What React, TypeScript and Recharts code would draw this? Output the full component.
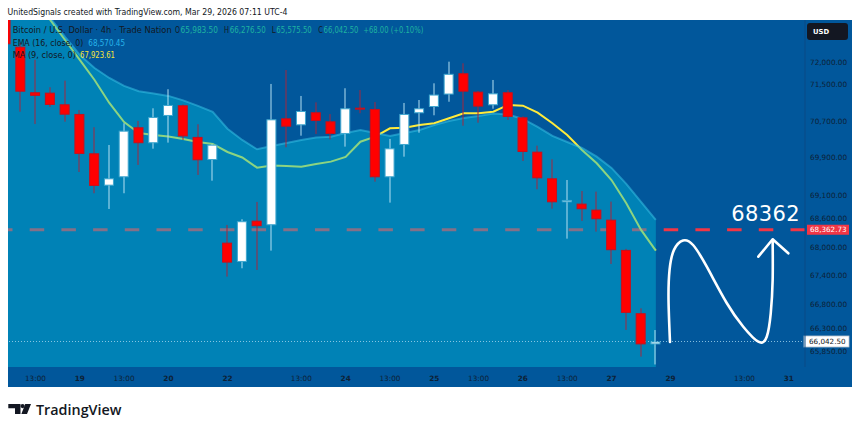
import React from 'react';
import { ComposedChart, XAxis, YAxis, Bar, Line, Area, ReferenceLine } from 'recharts';

// 4h candle slots, -1 is the half-hidden candle at the left edge
const slot = [-1, 0, 1, 2, 3, 4, 5, 6, 7, 8, 9, 10, 11, 12, 13, 14, 15, 16, 17, 18, 19, 20, 21, 22, 23, 24, 25, 26, 27, 28, 29, 30, 31, 32, 33, 34, 35, 36, 37, 38, 39, 40, 41, 42, 43];

const open = [73350, 72341, 71330, 71321, 71065, 70853, 69997, 69300, 69480, 70562, 70215, 70809, 71043, 70352, 69852, 68091, 67686, 68555, 68458, 70758, 70605, 70890, 70692, 70416, 70991, 70962, 69480, 70177, 70868, 71005, 71279, 71750, 71343, 71043, 71330, 70780, 70032, 69458, 68945, 68917, 68789, 68576, 67938, 66622, 65983.5];
const high = [73450, 72420, 72050, 71440, 71586, 70940, 70562, 70177, 70649, 70699, 70977, 71396, 71060, 70627, 70199, 68464, 68585, 68952, 71513, 71822, 71248, 71108, 70850, 71418, 71380, 71116, 70308, 71094, 71159, 71527, 72007, 71971, 71358, 71601, 71380, 70800, 70162, 69867, 69422, 69186, 69172, 68959, 67960, 66723, 66276.5];
const low = [72330, 70903, 70634, 71006, 70684, 69594, 69138, 68803, 69138, 69744, 70097, 70228, 70286, 69529, 69407, 67380, 67554, 67519, 67923, 70127, 70379, 70416, 70300, 70141, 70868, 69386, 68938, 69924, 70444, 70824, 71121, 70597, 70662, 70968, 70721, 69831, 69223, 68810, 68175, 68549, 68323, 67644, 66280, 65735, 65575.5];
const close = [72395, 71342, 71250, 71050, 70837, 69983, 69294, 69458, 70488, 70215, 70787, 71050, 70363, 69846, 70184, 67672, 68543, 68437, 70736, 70575, 70918, 70699, 70416, 70977, 70955, 69480, 70105, 70853, 70977, 71279, 71737, 71343, 71014, 71306, 70787, 70025, 69458, 68945, 68995, 68797, 68585, 67932, 66629, 65983.5, 66042.5];

const ema16 = [74168, 73800, 73393, 72986, 72559, 72156, 71867, 71645, 71469, 71352, 71304, 71249, 71150, 71029, 70898, 70529, 70286, 70084, 70155, 70221, 70286, 70340, 70357, 70438, 70503, 70438, 70373, 70438, 70503, 70612, 70700, 70765, 70808, 70863, 70841, 70743, 70569, 70373, 70242, 70112, 69924, 69681, 69337, 68952, 68570.45];
const ma9 = [74306, 73848, 73393, 72941, 72491, 72045, 71601, 71094, 70677, 70438, 70395, 70362, 70308, 70242, 70199, 70025, 69907, 69687, 69735, 69724, 69709, 69767, 69817, 69917, 70248, 70357, 70540, 70553, 70612, 70649, 70758, 70868, 70868, 70903, 71050, 71034, 70881, 70649, 70395, 70069, 69782, 69422, 68924, 68359, 67923.61];

const timeTickSlot = [1, 4, 7, 10, 14, 19, 22, 25, 28, 31, 34, 37, 40, 44, 49, 52];
const timeTickLabel = ['13:00', '19', '13:00', '20', '22', '13:00', '24', '13:00', '25', '13:00', '26', '13:00', '27', '29', '13:00', '31'];
const priceTicks = [72000, 71500, 70700, 69900, 69100, 68600, 68000, 67400, 66800, 66300, 65850];

const targetPrice = 68362.73;
const lastPrice = 66042.5;

// hand-drawn "N" projection and its arrow head
const waveSlot = [43.96, 43.86, 43.93, 44.23, 44.84, 45.52, 46.45, 47.8, 48.92, 49.94, 50.51, 50.78, 50.91, 50.91];
const wavePrice = [66032, 66897, 67519, 67938, 68136, 68041, 67587, 66833, 66345, 66038, 66140, 66620, 67311, 68148];
const headSlot = [49.94, 50.91, 51.97];
const headPrice = [67796, 68162, 67867];

const rows = slot.map((s, k) => ({ slot: s, o: open[k], h: high[k], l: low[k], c: close[k], ema: ema16[k], ma: ma9[k] }));
const waveRows = waveSlot.map((s, k) => ({ slot: s, v: wavePrice[k] }));
const headRows = headSlot.map((s, k) => ({ slot: s, v: headPrice[k] }));

const X_DOMAIN: [number, number] = [-0.86, 53.1];
const Y_DOMAIN: [number, number] = [65524, 72940];
const FONT = "'DejaVu Sans', Verdana, sans-serif";
const fmt = (v: number) => v.toLocaleString('en-US', { minimumFractionDigits: 2, maximumFractionDigits: 2 });

const wickRange = (d: any) => [d.l, d.h];
const bodyRange = (d: any) => [Math.min(d.o, d.c), Math.max(d.o, d.c)];

const Wick = (p: any) => {
  const { x, y, width, height, payload } = p;
  if (!payload || !isFinite(y) || !isFinite(height)) return <g />;
  const up = payload.c >= payload.o;
  return <rect x={Math.round(x + width / 2) - 0.5} y={y} width={1} height={Math.max(height, 1)} fill={up ? '#b4e0f2' : '#a3263f'} />;
};

const Body = (p: any) => {
  const { x, y, width, height, payload } = p;
  if (!payload || !isFinite(y) || !isFinite(height)) return <g />;
  const up = payload.c >= payload.o;
  const h = Math.max(height, 2);
  return (
    <rect x={x + 0.5} y={y + 0.5} width={width - 1} height={h - 1}
      fill={up ? '#ffffff' : '#ff0000'} stroke={up ? '#3fa7cf' : '#c8101c'} strokeWidth={1} />
  );
};

const TimeTick = ({ x, y, payload }: any) => {
  const k = timeTickSlot.indexOf(payload.value);
  const label = timeTickLabel[k] ?? '';
  const bold = !label.includes(':');
  return (
    <text x={x} y={y + 5.5} textAnchor="middle" fontSize={7.3} fontWeight={bold ? 700 : 400} fill="#0d2136" fontFamily={FONT}>
      {label}
    </text>
  );
};

const PriceTick = ({ x, y, payload }: any) => (
  <text x={x} y={y + 2.6} textAnchor="start" fontSize={7.3} fill="#0d2136" fontFamily={FONT}>
    {fmt(payload.value)}
  </text>
);

const TargetLabel = (props: any) => {
  const vb = props.viewBox;
  if (!vb) return null;
  const right = vb.x + vb.width;
  const cy = vb.y;
  return (
    <g>
      <text x={right - 5} y={cy - 8.5} textAnchor="end" fontSize={21} fill="#ffffff" fontFamily={FONT} letterSpacing={0.4}>
        {String(Math.floor(targetPrice))}
      </text>
      <rect x={right + 2} y={cy - 5} width={42} height={10} fill="#f23645" />
      <text x={right + 5} y={cy + 2.6} fontSize={7.2} fill="#ffffff" fontFamily={FONT}>{fmt(targetPrice)}</text>
    </g>
  );
};

const LastLabel = (props: any) => {
  const vb = props.viewBox;
  if (!vb) return null;
  const right = vb.x + vb.width;
  const cy = vb.y;
  return (
    <g>
      <rect x={right - 1} y={cy - 5.5} width={45} height={11} fill="#ffffff" stroke="#b8c4cf" strokeWidth={0.8} />
      <text x={right + 4} y={cy + 2.6} fontSize={7.2} fill="#131722" fontFamily={FONT}>{fmt(lastPrice)}</text>
    </g>
  );
};

export default function App() {
  const dark = '#131722';
  const teal = '#1fb3a0';
  return (
    <div style={{ position: 'absolute', left: 0, top: 0, width: 860, height: 431, background: '#ffffff', overflow: 'hidden' }}>
      <div style={{ position: 'absolute', left: 8, top: 20, width: 844, height: 367, background: '#01579b' }}>
        <ComposedChart width={844} height={367} data={rows} margin={{ top: 0, right: 0, bottom: 0, left: 0 }}>
          <XAxis xAxisId="t" dataKey="slot" type="number" domain={X_DOMAIN} allowDataOverflow ticks={timeTickSlot}
            interval={0} tick={TimeTick} tickLine={false} axisLine={false} tickSize={0} tickMargin={8} height={20} />
          <XAxis xAxisId="w" orientation="top" height={0} dataKey="slot" type="number" domain={X_DOMAIN} allowDataOverflow hide />
          <XAxis xAxisId="b" orientation="top" height={0} dataKey="slot" type="number" domain={X_DOMAIN} allowDataOverflow hide />
          <YAxis yAxisId="p" orientation="right" type="number" scale="log" domain={Y_DOMAIN} allowDataOverflow
            ticks={priceTicks} interval={0} width={47} tick={PriceTick} tickLine={false} tickSize={0} tickMargin={5}
            axisLine={{ stroke: '#0b4a85' }} />

          <ReferenceLine xAxisId="t" yAxisId="p" y={targetPrice} stroke="#f23645" strokeWidth={3}
            strokeDasharray="14.5 17.2" label={TargetLabel} zIndex={50} />
          <Line xAxisId="t" yAxisId="p" dataKey="ma" type="linear" stroke="#ffeb3b" strokeWidth={2}
            dot={false} activeDot={false} isAnimationActive={false} zIndex={60} />
          <Area xAxisId="t" yAxisId="p" dataKey="ema" type="linear" baseValue={60000} fill="#00b9d7" fillOpacity={0.45}
            stroke="#3cc8ea" strokeOpacity={0.5} strokeWidth={2} dot={false} activeDot={false} isAnimationActive={false} zIndex={100} />
          <ReferenceLine xAxisId="t" yAxisId="p" y={lastPrice} stroke="#a9d8ef" strokeOpacity={0.8}
            strokeDasharray="1 2" label={LastLabel} zIndex={150} />
          <Bar xAxisId="w" yAxisId="p" dataKey={wickRange} barSize={10} shape={Wick} isAnimationActive={false} zIndex={300} />
          <Bar xAxisId="b" yAxisId="p" dataKey={bodyRange} barSize={10} shape={Body} isAnimationActive={false} zIndex={310} />
          <Line xAxisId="t" yAxisId="p" data={waveRows} dataKey="v" type="natural" stroke="#ffffff" strokeWidth={2.6}
            strokeLinecap="round" dot={false} activeDot={false} isAnimationActive={false} zIndex={500} />
          <Line xAxisId="t" yAxisId="p" data={headRows} dataKey="v" type="linear" stroke="#ffffff" strokeWidth={2.6}
            strokeLinecap="round" strokeLinejoin="round" dot={false} activeDot={false} isAnimationActive={false} zIndex={500} />
        </ComposedChart>
      </div>

      <svg width={860} height={431} style={{ position: 'absolute', left: 0, top: 0, pointerEvents: 'none' }} fontFamily={FONT}>
        <text x={7.5} y={15} fontSize={9} fill={dark} textLength={280} lengthAdjust="spacingAndGlyphs">
          UnitedSignals created with TradingView.com, Mar 29, 2026 07:11 UTC-4
        </text>

        <text x={12.7} y={33.3} fontSize={8.2} fill={dark} textLength={159} lengthAdjust="spacingAndGlyphs">Bitcoin / U.S. Dollar · 4h · Trade Nation</text>
        <text x={175} y={33.3} fontSize={8.2} fill={dark} textLength={5} lengthAdjust="spacingAndGlyphs">O</text>
        <text x={180.5} y={33.3} fontSize={8.2} fill={teal} textLength={37.5} lengthAdjust="spacingAndGlyphs">65,983.50</text>
        <text x={224} y={33.3} fontSize={8.2} fill={dark} textLength={5} lengthAdjust="spacingAndGlyphs">H</text>
        <text x={229.8} y={33.3} fontSize={8.2} fill={teal} textLength={36} lengthAdjust="spacingAndGlyphs">66,276.50</text>
        <text x={271.8} y={33.3} fontSize={8.2} fill={dark} textLength={4} lengthAdjust="spacingAndGlyphs">L</text>
        <text x={276.3} y={33.3} fontSize={8.2} fill={teal} textLength={35.5} lengthAdjust="spacingAndGlyphs">65,575.50</text>
        <text x={318.3} y={33.3} fontSize={8.2} fill={dark} textLength={4.6} lengthAdjust="spacingAndGlyphs">C</text>
        <text x={323.5} y={33.3} fontSize={8.2} fill={teal} textLength={35} lengthAdjust="spacingAndGlyphs">66,042.50</text>
        <text x={363.3} y={33.3} fontSize={8.2} fill={teal} textLength={60} lengthAdjust="spacingAndGlyphs">+68.00 (+0.10%)</text>

        <text x={12.7} y={45.7} fontSize={8.2} fill={dark} textLength={70.6} lengthAdjust="spacingAndGlyphs">EMA (16, close, 0)</text>
        <text x={88.3} y={45.7} fontSize={8.2} fill="#27b4ea" textLength={36.7} lengthAdjust="spacingAndGlyphs">68,570.45</text>
        <text x={12.7} y={57.7} fontSize={8.2} fill={dark} textLength={63.3} lengthAdjust="spacingAndGlyphs">MA (9, close, 0)</text>
        <text x={80} y={57.7} fontSize={8.2} fill="#f7e43a" textLength={35} lengthAdjust="spacingAndGlyphs">67,923.61</text>

        <rect x={807} y={23} width={41} height={17} rx={3} fill="#131722" />
        <text x={813} y={34.2} fontSize={6.8} fontWeight={700} fill="#ffffff">USD</text>

        <path d="M8.3 404 H20.5 V414 H15 V408.2 H8.3 Z" fill={dark} />
        <circle cx={22.6} cy={406.1} r={2.1} fill={dark} />
        <path d="M25.2 404 H31 L27 414 H21.4 Z" fill={dark} />
        <text x={36} y={414.5} fontSize={15} fontWeight={600} fill={dark} fontFamily="'Open Sans', sans-serif" textLength={85.5} lengthAdjust="spacingAndGlyphs">TradingView</text>
      </svg>
    </div>
  );
}
